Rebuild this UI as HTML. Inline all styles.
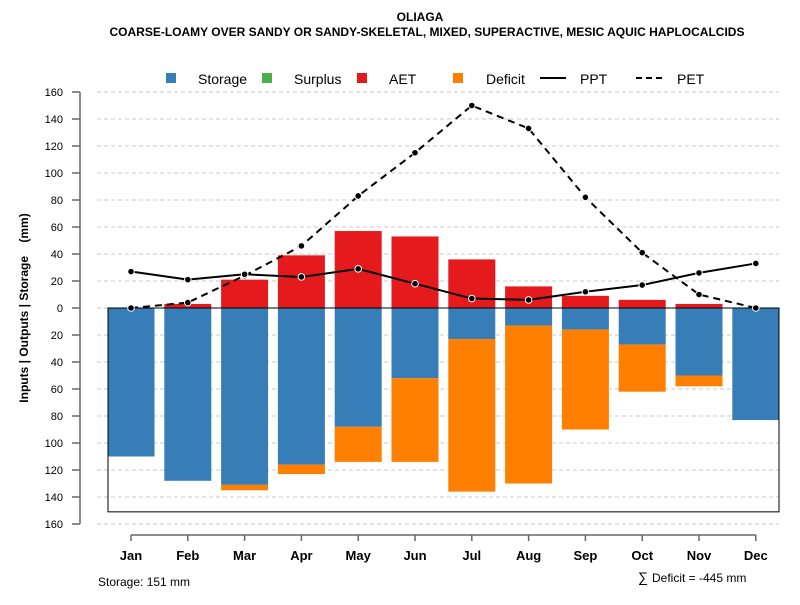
<!DOCTYPE html>
<html><head><meta charset="utf-8"><style>
body{margin:0;background:#fff;font-family:"Liberation Sans",sans-serif}
svg text{font-family:"Liberation Sans",sans-serif}
</style></head><body>
<svg id="c" width="800" height="600" xmlns="http://www.w3.org/2000/svg">
<rect width="800" height="600" fill="#fff"/>
<text x="420" y="21" text-anchor="middle" font-size="12" font-weight="bold">OLIAGA</text>
<text x="427" y="36" text-anchor="middle" font-size="12" font-weight="bold">COARSE-LOAMY OVER SANDY OR SANDY-SKELETAL, MIXED, SUPERACTIVE, MESIC AQUIC HAPLOCALCIDS</text>
<text transform="translate(28,308) rotate(-90)" text-anchor="middle" font-size="12" font-weight="bold">Inputs | Outputs | Storage&#160;&#160;&#160;&#160;(mm)</text>
<g id="legend">
<rect x="166" y="73" width="10" height="10" fill="#377EB8"/>
<text x="198" y="84" font-size="14">Storage</text>
<rect x="262" y="73" width="10" height="10" fill="#4DAF4A"/>
<text x="294" y="84" font-size="14">Surplus</text>
<rect x="357" y="73" width="10" height="10" fill="#E41A1C"/>
<text x="389" y="84" font-size="14">AET</text>
<rect x="453" y="73" width="10" height="10" fill="#FF7F00"/>
<text x="486" y="84" font-size="14">Deficit</text>
<line x1="540" y1="78" x2="566" y2="78" stroke="#000" stroke-width="2"/>
<text x="580" y="84" font-size="14">PPT</text>
<line x1="636" y1="78" x2="662" y2="78" stroke="#000" stroke-width="2" stroke-dasharray="6,4"/>
<text x="677" y="84" font-size="14">PET</text>
</g>
<text x="98" y="586" font-size="12">Storage: 151 mm</text>
<text x="638" y="582" font-size="14">∑</text>
<text x="652" y="582" font-size="12">Deficit = -445 mm</text>
</svg>
<script>
const months=["Jan","Feb","Mar","Apr","May","Jun","Jul","Aug","Sep","Oct","Nov","Dec"];
const storage=[110,128,131,116,88,52,23,13,16,27,50,83];
const deficit=[0,0,4,7,26,62,113,117,74,35,8,0];
const aet=[0,3,21,39,57,53,36,16,9,6,3,0];
const ppt=[27,21,25,23,29,18,7,6,12,17,26,33];
const pet=[0,4,24,46,83,115,150,133,82,41,10,0];
const yTicks=[-160,-140,-120,-100,-80,-60,-40,-20,0,20,40,60,80,100,120,140,160];
const storageMax=151;
const svg=document.getElementById('c');
const NS="http://www.w3.org/2000/svg";
const y=v=>308-v*1.35;
const x=i=>131+i*56.8;
const bw=47;
function mk(t,a){const e=document.createElementNS(NS,t);for(const k in a)e.setAttribute(k,a[k]);svg.appendChild(e);return e;}
mk('line',{x1:80,y1:y(160),x2:80,y2:y(-160),stroke:'#666','stroke-width':1.5});
yTicks.forEach(v=>{
 const g=mk('line',{x1:97,x2:779,y1:y(v),y2:y(v),stroke:'#c8c8c8','stroke-dasharray':'4,3'});
 
 
 mk('line',{x1:72,x2:80,y1:y(v),y2:y(v),stroke:'#666','stroke-width':1.5});
 const t=mk('text',{x:63,y:y(v)+4,'text-anchor':'end','font-size':11});
 t.textContent=Math.abs(v);
 
 
});
months.forEach((m,i)=>{
 const cx=x(i);
 let r=mk('rect',{x:cx-bw/2,y:y(0),width:bw,height:storage[i]*1.35,fill:'#377EB8'});
 
 
 if(deficit[i]>0){r=mk('rect',{x:cx-bw/2,y:y(-storage[i]),width:bw,height:deficit[i]*1.35,fill:'#FF7F00'});
 
 }
 if(aet[i]>0){r=mk('rect',{x:cx-bw/2,y:y(aet[i]),width:bw,height:aet[i]*1.35,fill:'#E41A1C'});
 
 }
 mk('line',{x1:cx,x2:cx,y1:535,y2:541,stroke:'#666','stroke-width':1.5});
 const t=mk('text',{x:cx,y:560,'text-anchor':'middle','font-size':13,'font-weight':'bold'});
 t.textContent=m;
 
 
});
mk('line',{x1:x(0),x2:x(11),y1:535,y2:535,stroke:'#666','stroke-width':1.5});
const box=mk('rect',{x:108,y:y(0),width:671,height:storageMax*1.35,fill:'none',stroke:'#000'});


mk('line',{x1:108,x2:779,y1:y(0),y2:y(0),stroke:'#000'});
function series(arr,dash,name){
 const p=mk('polyline',{points:arr.map((v,i)=>x(i)+','+y(v)).join(' '),fill:'none',stroke:'#000','stroke-width':2,'stroke-dasharray':dash});
 
 
 arr.forEach((v,i)=>{const c=mk('circle',{cx:x(i),cy:y(v),r:3.3,fill:'#000',stroke:'#fff','stroke-width':1});
 
 });
}
series(pet,'7,5','pet');
series(ppt,'none','ppt');
</script>
</body></html>
